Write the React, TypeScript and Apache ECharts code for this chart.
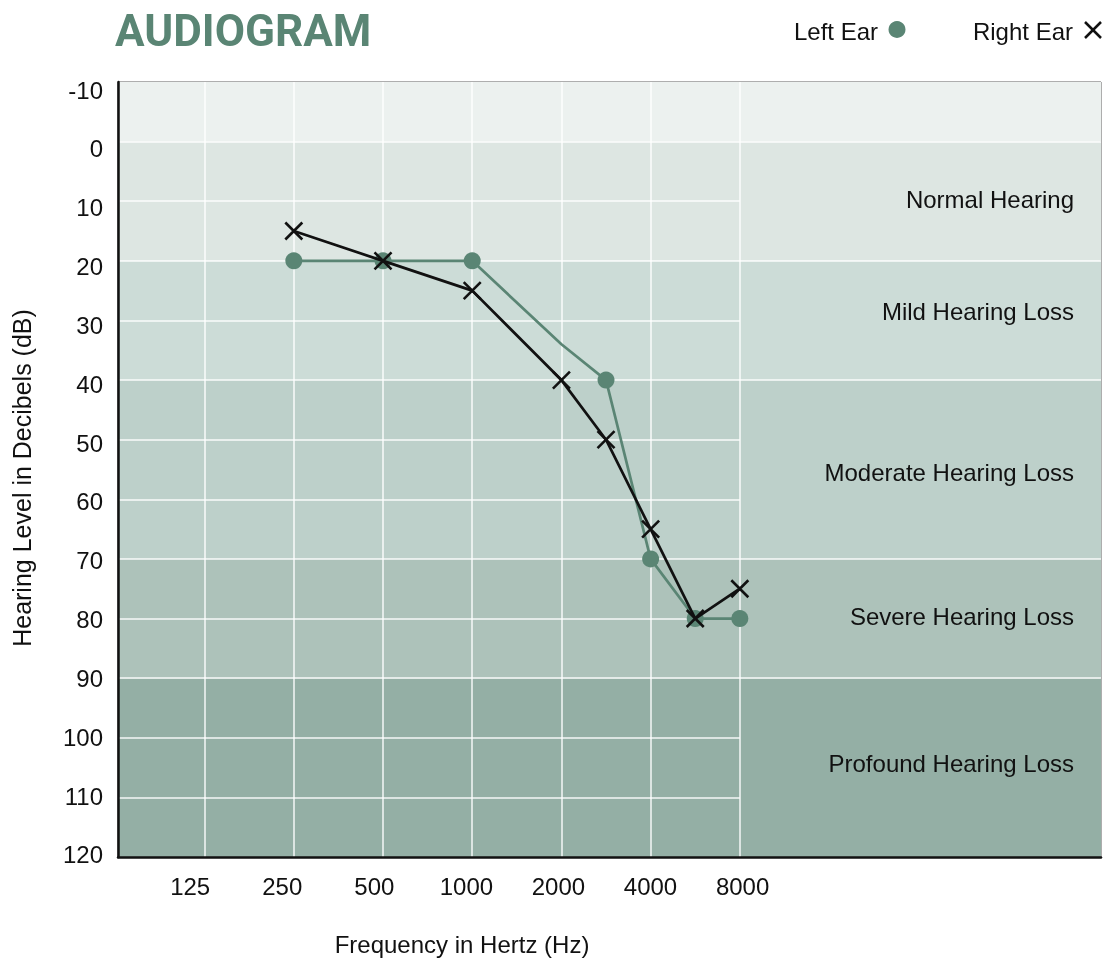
import React, { useEffect, useRef } from "react";
import * as echarts from "echarts";

// ---------- data ----------
const frequencyTicks = [125, 250, 500, 1000, 2000, 4000, 8000];
const testFrequencies = [250, 500, 1000, 2000, 3000, 4000, 6000, 8000];
const leftEar = [20, 20, 20, 34, 40, 70, 80, 80];
const leftEarMarked = [true, true, true, false, true, true, true, true];
const rightEar = [15, 20, 25, 40, 50, 65, 80, 75];
const dbTicks = [-10, 0, 10, 20, 30, 40, 50, 60, 70, 80, 90, 100, 110, 120];
const bandNames = [
  "",
  "Normal Hearing",
  "Mild Hearing Loss",
  "Moderate Hearing Loss",
  "Severe Hearing Loss",
  "Profound Hearing Loss",
];
const bandFrom = [-10, 0, 20, 40, 70, 90];
const bandTo = [0, 20, 40, 70, 90, 120];
const bandColors = ["#ECF1EF", "#DDE6E2", "#CCDCD7", "#BDD0CA", "#ADC2BA", "#94AFA5"];
const bandLabelOffsetY = [0, -2, -9, 3, -2, -4];

// ---------- helpers ----------
// octave position: 125 Hz -> 0, 250 -> 1, ...; inter-octave frequencies sit linearly between
function freqPos(f: number): number {
  let k = 0;
  while (125 * Math.pow(2, k + 1) <= f) k++;
  const lo = 125 * Math.pow(2, k);
  return k + (f - lo) / lo;
}

const GREEN = "#5A8574";
const INK = "#111111";
const FONT = "'Liberation Sans', Arial, sans-serif";
const FS = 24;

const X_MIN = -0.971;
const X_MAX = 10.049;
const LAST_TICK = freqPos(frequencyTicks[frequencyTicks.length - 1]);

export default function App() {
  const ref = useRef<HTMLDivElement>(null);

  useEffect(() => {
    if (!ref.current) return;
    const chart = echarts.init(ref.current, undefined, { renderer: "svg" });

    const bandBoundaries = new Set<number>([...bandFrom, ...bandTo]);
    const gridLines: any[] = [];
    dbTicks.forEach((v) => {
      if (v === dbTicks[0] || v === dbTicks[dbTicks.length - 1]) return;
      if (bandBoundaries.has(v)) {
        gridLines.push({ yAxis: v });
      } else {
        gridLines.push([
          { coord: [X_MIN, v] },
          { coord: [LAST_TICK, v] },
        ]);
      }
    });
    frequencyTicks.forEach((f) => gridLines.push({ xAxis: freqPos(f) }));

    const areas = bandFrom.map((from, i) => [
      {
        yAxis: from,
        name: bandNames[i],
        itemStyle: { color: bandColors[i], opacity: 1 },
        label: { offset: [0, bandLabelOffsetY[i]] },
      },
      { yAxis: bandTo[i] },
    ]);

    const crossPath = "path://M0,0L16,16M16,0L0,16";

    chart.setOption({
      animation: false,
      grid: {
        left: 118,
        top: 82,
        width: 983,
        height: 775,
        show: true,
        borderColor: "#5c5c5c",
        borderWidth: 1,
        backgroundColor: "transparent",
      },
      xAxis: [
        {
          type: "value",
          min: X_MIN,
          max: X_MAX,
          position: "bottom",
          z: 4,
          axisLine: { show: true, onZero: false, lineStyle: { color: INK, width: 2.5 } },
          axisTick: { show: false },
          axisLabel: { show: false },
          splitLine: { show: false },
        },
        {
          type: "value",
          min: -0.784,
          max: 9.893,
          position: "bottom",
          axisLine: { show: false },
          axisTick: { show: false },
          splitLine: { show: false },
          axisLabel: {
            show: true,
            customValues: frequencyTicks.map((f) => freqPos(f)),
            formatter: (v: number) => String(frequencyTicks[Math.round(v)]),
            margin: 17,
            color: INK,
            fontFamily: FONT,
            fontSize: FS,
          },
        },
      ],
      yAxis: [
        {
          type: "value",
          inverse: true,
          min: -10,
          max: 120,
          position: "left",
          z: 4,
          axisLine: { show: true, onZero: false, lineStyle: { color: INK, width: 2.5 } },
          axisTick: { show: false },
          axisLabel: { show: false },
          splitLine: { show: false },
        },
        {
          type: "value",
          inverse: true,
          min: -11.36,
          max: 120.34,
          position: "left",
          axisLine: { show: false },
          axisTick: { show: false },
          splitLine: { show: false },
          axisLabel: {
            show: true,
            customValues: dbTicks,
            margin: 15,
            color: INK,
            fontFamily: FONT,
            fontSize: FS,
          },
        },
      ],
      graphic: [
        {
          type: "text",
          x: 115,
          y: 31,
          style: {
            text: "AUDIOGRAM",
            fontFamily: "Roboto, 'Liberation Sans', sans-serif",
            fontWeight: "bold",
            fontSize: 44,
            fill: GREEN,
            align: "left",
            verticalAlign: "middle",
          },
        },
        {
          type: "text",
          x: 878,
          y: 31,
          style: { text: "Left Ear", fontFamily: FONT, fontSize: FS, fill: INK, align: "right", verticalAlign: "middle" },
        },
        { type: "circle", shape: { cx: 897, cy: 29.5, r: 8.5 }, style: { fill: GREEN } },
        {
          type: "text",
          x: 1073,
          y: 31,
          style: { text: "Right Ear", fontFamily: FONT, fontSize: FS, fill: INK, align: "right", verticalAlign: "middle" },
        },
        { type: "line", shape: { x1: 1085, y1: 22, x2: 1101, y2: 38 }, style: { stroke: INK, lineWidth: 2.5 } },
        { type: "line", shape: { x1: 1101, y1: 22, x2: 1085, y2: 38 }, style: { stroke: INK, lineWidth: 2.5 } },
        {
          type: "text",
          x: 22,
          y: 478,
          rotation: Math.PI / 2,
          style: {
            text: "Hearing Level in Decibels (dB)",
            fontFamily: FONT,
            fontSize: 25,
            fill: INK,
            align: "center",
            verticalAlign: "middle",
          },
        },
        {
          type: "text",
          x: 462,
          y: 944,
          style: {
            text: "Frequency in Hertz (Hz)",
            fontFamily: FONT,
            fontSize: FS,
            fill: INK,
            align: "center",
            verticalAlign: "middle",
          },
        },
      ],
      series: [
        {
          type: "line",
          name: "bands",
          xAxisIndex: 0,
          yAxisIndex: 0,
          data: [],
          silent: true,
          z: 1,
          markArea: {
            silent: true,
            z: 1,
            label: {
              show: true,
              position: "insideRight",
              distance: 27,
              color: INK,
              fontFamily: FONT,
              fontSize: FS,
            },
            data: areas,
          },
          markLine: {
            silent: true,
            z: 2,
            symbol: ["none", "none"],
            label: { show: false },
            lineStyle: { color: "rgba(255,255,255,0.9)", width: 1.5, type: "solid" },
            emphasis: { disabled: true },
            data: gridLines,
          },
        },
        {
          type: "line",
          name: "Left Ear",
          xAxisIndex: 0,
          yAxisIndex: 0,
          z: 5,
          symbol: "circle",
          symbolSize: 17,
          lineStyle: { color: GREEN, width: 2.7 },
          itemStyle: { color: GREEN },
          data: testFrequencies.map((f, i) => ({
            value: [freqPos(f), leftEar[i]],
            symbol: leftEarMarked[i] ? "circle" : "none",
          })),
        },
        {
          type: "line",
          name: "Right Ear",
          xAxisIndex: 0,
          yAxisIndex: 0,
          z: 6,
          symbol: crossPath,
          symbolSize: 17,
          lineStyle: { color: INK, width: 2.7 },
          itemStyle: { color: INK, borderColor: INK, borderWidth: 2.6 },
          data: testFrequencies.map((f, i) => [freqPos(f), rightEar[i]]),
        },
      ],
    });

    return () => chart.dispose();
  }, []);

  return (
    <div
      ref={ref}
      style={{ position: "fixed", left: 0, top: 0, width: 1114, height: 958 }}
    />
  );
}
